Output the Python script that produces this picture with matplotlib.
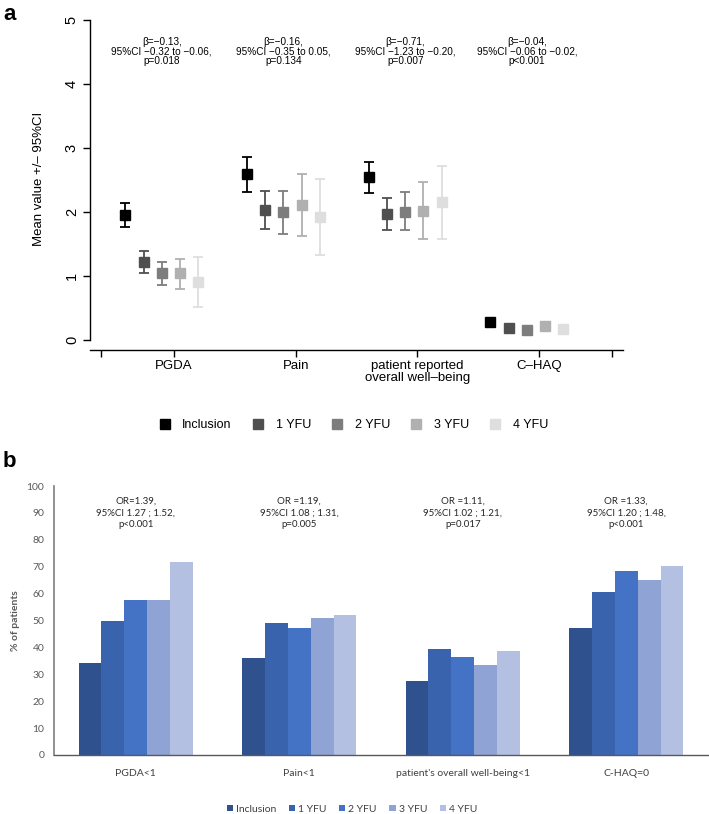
import matplotlib
matplotlib.use("Agg")
import matplotlib.pyplot as plt
from matplotlib.lines import Line2D
from matplotlib.patches import Patch
import numpy as np

# ---------------- data ----------------
timepoints = ["Inclusion", "1 YFU", "2 YFU", "3 YFU", "4 YFU"]

# panel a: mean and 95% CI
a_categories = ["PGDA", "Pain", "patient reported\noverall well\u2013being", "C\u2013HAQ"]
a_mean = {
    "Inclusion": [1.95, 2.59, 2.55, 0.28],
    "1 YFU":     [1.21, 2.03, 1.97, 0.18],
    "2 YFU":     [1.04, 2.00, 2.00, 0.16],
    "3 YFU":     [1.04, 2.11, 2.02, 0.22],
    "4 YFU":     [0.91, 1.92, 2.15, 0.17],
}
a_low = {
    "Inclusion": [1.77, 2.31, 2.30, 0.25],
    "1 YFU":     [1.04, 1.73, 1.72, 0.15],
    "2 YFU":     [0.85, 1.66, 1.72, 0.13],
    "3 YFU":     [0.80, 1.63, 1.58, 0.18],
    "4 YFU":     [0.52, 1.33, 1.58, 0.13],
}
a_high = {
    "Inclusion": [2.14, 2.86, 2.78, 0.31],
    "1 YFU":     [1.39, 2.33, 2.22, 0.21],
    "2 YFU":     [1.22, 2.33, 2.31, 0.19],
    "3 YFU":     [1.27, 2.59, 2.46, 0.26],
    "4 YFU":     [1.30, 2.52, 2.72, 0.21],
}
a_notes = [
    "\u03b2=\u22120.13,\n95%CI \u22120.32 to \u22120.06,\np=0.018",
    "\u03b2=\u22120.16,\n95%CI \u22120.35 to 0.05,\np=0.134",
    "\u03b2=\u22120.71,\n95%CI \u22121.23 to \u22120.20,\np=0.007",
    "\u03b2=\u22120.04,\n95%CI \u22120.06 to \u22120.02,\np<0.001",
]
a_colors = ["#000000", "#4f4f4f", "#7d7d7d", "#b0b0b0", "#dedede"]

# panel b: % of patients
b_categories = ["PGDA<1", "Pain<1", "patient's overall well-being<1", "C-HAQ=0"]
b_values = {
    "Inclusion": [34.1, 36.2, 27.6, 47.1],
    "1 YFU":     [50.0, 49.0, 39.3, 60.5],
    "2 YFU":     [57.6, 47.3, 36.6, 68.4],
    "3 YFU":     [57.7, 50.8, 33.5, 64.9],
    "4 YFU":     [71.9, 52.0, 38.7, 70.3],
}
b_notes = [
    "OR=1.39,\n95%CI 1.27 ; 1.52,\np<0.001",
    "OR =1.19,\n95%CI 1.08 ; 1.31,\np=0.005",
    "OR =1.11,\n95%CI 1.02 ; 1.21,\np=0.017",
    "OR =1.33,\n95%CI 1.20 ; 1.48,\np<0.001",
]
b_colors = ["#2f528f", "#3a63ad", "#4472c4", "#8fa3d4", "#b4c0e2"]

# ---------------- figure ----------------
W, H = 709, 814
fig = plt.figure(figsize=(W / 100, H / 100), dpi=100)

def px_axes(left, top, right, bottom):
    return fig.add_axes([left / W, 1 - bottom / H, (right - left) / W, (bottom - top) / H])

RFONT = ["Liberation Sans", "DejaVu Sans"]
XFONT = ["Lato", "Open Sans", "DejaVu Sans"]

# ---------------- panel a ----------------
axa = px_axes(90, 7.2, 623, 350)
offsets = [-0.4, -0.25, -0.1, 0.05, 0.2]
xa = np.arange(1, len(a_categories) + 1)
for i, tp in enumerate(timepoints):
    m = np.array(a_mean[tp])
    lo = np.array(a_low[tp])
    hi = np.array(a_high[tp])
    axa.errorbar(xa + offsets[i], m, yerr=[m - lo, hi - m], fmt="s",
                 color=a_colors[i], ecolor=a_colors[i], markersize=7.4,
                 elinewidth=1.3, capsize=3.3, capthick=1.3, zorder=3)

axa.set_xlim(0.31, 4.69)
axa.set_ylim(-0.16, 5.2)
for s in ["top", "right"]:
    axa.spines[s].set_visible(False)
axa.spines["left"].set_bounds(0, 5)
axa.spines["left"].set_linewidth(1.0)
axa.spines["bottom"].set_linewidth(1.0)
axa.set_yticks(range(0, 6))
axa.set_yticklabels([str(v) for v in range(0, 6)], rotation=90, va="center",
                    fontsize=10.5, family=RFONT)
axa.set_xticks([0.4, 1, 2, 3, 4, 4.6])
axa.set_xticklabels([""] + a_categories + [""], fontsize=9.5, family=RFONT,
                    linespacing=1.0)
axa.tick_params(axis="both", length=5, width=1.0, direction="out")
axa.tick_params(axis="y", pad=3)
axa.tick_params(axis="x", pad=2)
axa.set_ylabel("Mean value +/\u2013 95%CI", fontsize=9.5, family=RFONT)
axa.yaxis.set_label_coords(-45 / 533, 0.5)

group_center_a = np.mean(offsets)
for j, note in enumerate(a_notes):
    axa.text(xa[j] + group_center_a, 4.74, note, ha="center", va="top",
             fontsize=7.2, family=RFONT, linespacing=0.95)

handles_a = [Line2D([], [], marker="s", linestyle="none", color=c, markersize=7.5)
             for c in a_colors]
fig.legend(handles_a, timepoints, loc="center", bbox_to_anchor=(354 / W, 1 - 425 / H),
           ncol=5, frameon=False, prop={"family": RFONT, "size": 9},
           handlelength=0.8, handletextpad=1.0, columnspacing=1.7)

fig.text(3 / W, 1 - 15 / H, "a", fontsize=16, fontweight="bold", family=RFONT,
         va="center", ha="left")

# ---------------- panel b ----------------
axb = px_axes(54, 486, 708, 755)
xb = np.arange(len(b_categories))
bw = 0.14
for i, tp in enumerate(timepoints):
    axb.bar(xb + (i - 2) * bw, b_values[tp], width=bw, color=b_colors[i],
            edgecolor="none", zorder=2)
axb.set_xlim(-0.5, 3.5)
axb.set_ylim(0, 100)
axb.set_yticks(range(0, 101, 10))
axb.set_yticklabels([str(v) for v in range(0, 101, 10)], fontsize=7.5,
                    family=XFONT, color="#595959")
axb.set_xticks(xb)
axb.set_xticklabels(b_categories, fontsize=7.5, family=XFONT, color="#404040")
axb.tick_params(axis="both", length=0)
axb.tick_params(axis="y", pad=7)
axb.tick_params(axis="x", pad=10)
for s in ["top", "right"]:
    axb.spines[s].set_visible(False)
axb.spines["left"].set_color("#7f7f7f")
axb.spines["left"].set_linewidth(1.2)
axb.spines["bottom"].set_color("#595959")
axb.spines["bottom"].set_linewidth(1.0)
axb.set_ylabel("% of patients", fontsize=7.5, family=XFONT, color="#595959",
               fontweight="bold")
axb.yaxis.set_label_coords(-34 / 654, 0.5)
for j, note in enumerate(b_notes):
    axb.text(xb[j], 96.0, note, ha="center", va="top", fontsize=7,
             family=XFONT, color="#262626", linespacing=1.35)

handles_b = [Patch(facecolor=c, edgecolor="none") for c in b_colors]
fig.legend(handles_b, timepoints, loc="center", bbox_to_anchor=(352 / W, 1 - 809 / H),
           ncol=5, frameon=False, prop={"family": XFONT, "size": 7.5},
           handlelength=0.6, handleheight=0.6, handletextpad=0.3,
           columnspacing=1.2, labelcolor="#404040")

fig.text(3 / W, 1 - 461 / H, "b", fontsize=16, fontweight="bold", family=RFONT,
         va="center", ha="left")

fig.savefig("out.png", dpi=100)
